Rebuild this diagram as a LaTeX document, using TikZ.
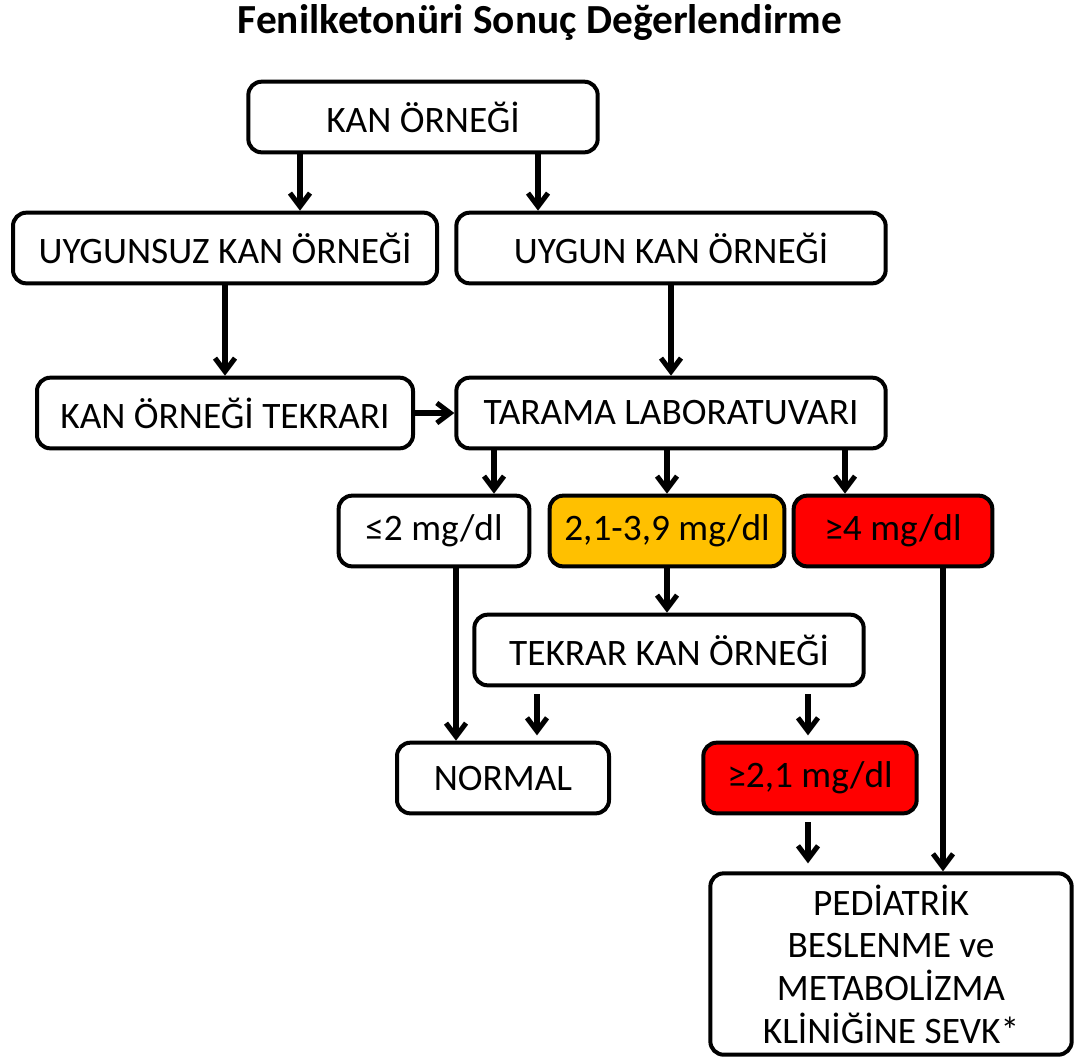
\documentclass[tikz,border=0pt]{standalone}
\usepackage{fontspec}
\setmainfont{Carlito}
\usetikzlibrary{arrows.meta}
\definecolor{amber}{HTML}{FFC000}
\tikzstyle{box}=[draw, rounded corners=10pt, line width=3pt, minimum height=53pt,
    inner sep=2pt, align=center, font=\fontsize{28}{32}\selectfont]
\tikzstyle{warn} = [box, fill=amber]
\tikzstyle{alarm} = [box, fill=red]
\tikzstyle{column} = [coordinate]
\tikzstyle{link} = [->, line width=3.8pt]

\begin{document}
\begin{tikzpicture}[x=0.75pt, y=-0.75pt, >={Straight Barb[length=10pt,width=15pt]}]
	\useasboundingbox (0,0) rectangle (1084,1058);
	% Define the nodes in the picture
	\node (title) at (540,22) {\fontsize{31}{34}\selectfont\bfseries Fenilketonüri Sonuç Değerlendirme};
	\node (kan) [box, minimum width=262pt] at (423,117) {KAN ÖRNEĞİ};
	\node (uygunsuz) [box, minimum width=318pt] at (225,248) {UYGUNSUZ KAN ÖRNEĞİ};
	\node (uygun) [box, minimum width=322pt] at (671,248) {UYGUN KAN ÖRNEĞİ};
	\node (tekrari) [box, minimum width=282pt] at (225,413) {KAN ÖRNEĞİ TEKRARI};
	\node (tarama) [box, minimum width=322pt] at (671,413) {TARAMA LABORATUVARI};
	\node (low) [box, minimum width=143pt] at (434,531) {≤2 mg/dl};
	\node (mid) [warn, minimum width=176pt] at (667,531) {2,1-3,9 mg/dl};
	\node (high) [alarm, minimum width=149pt] at (893,531) {≥4 mg/dl};
	\node (tekrar) [box, minimum width=292pt] at (669,650) {TEKRAR KAN ÖRNEĞİ};
	\node (normal) [box, minimum width=159pt] at (503,778) {NORMAL};
	\node (retest) [alarm, minimum width=160pt] at (810,778) {≥2,1 mg/dl};
	\node (sevk) [box, minimum width=271pt, minimum height=136pt] at (891,964)
	    {PEDİATRİK\\BESLENME ve\\METABOLİZMA\\KLİNİĞİNE SEVK*};

	% Columns of the arrows
	\coordinate (c_bad) at (300,0);
	\coordinate (c_good) at (538,0);
	\coordinate (c_low) at (494,0);
	\coordinate (c_high) at (845,0);
	\coordinate (c_norm) at (456,0);
	\coordinate (c_again) at (537,0);
	\coordinate (c_retest) at (808,0);
	\coordinate (c_sevk) at (943,0);

	% Define the edges in the picture
	\draw [link] (kan.south -| c_bad) -- (uygunsuz.north -| c_bad);
	\draw [link] (kan.south -| c_good) -- (uygun.north -| c_good);
	\draw [link] (uygunsuz) -- (tekrari);
	\draw [link] (uygun) -- (tarama);
	\draw [link] (tekrari) -- (tarama);
	\draw [link] (tarama.south -| c_low) -- (low.north -| c_low);
	\draw [link] (tarama.south -| mid) -- (mid);
	\draw [link] (tarama.south -| c_high) -- (high.north -| c_high);
	\draw [link] (mid) -- (tekrar.north -| mid);
	\draw [link] (low.south -| c_norm) -- (normal.north -| c_norm);
	\draw [link, shorten <=5pt, shorten >=4pt] (tekrar.south -| c_again) -- (normal.north -| c_again);
	\draw [link, shorten <=5pt, shorten >=4pt] (tekrar.south -| c_retest) -- (retest.north -| c_retest);
	\draw [link, shorten <=5pt, shorten >=6pt] (retest.south -| c_retest) -- (sevk.north -| c_retest);
	\draw [link] (high.south -| c_sevk) -- (sevk.north -| c_sevk);
\end{tikzpicture}
\end{document}
